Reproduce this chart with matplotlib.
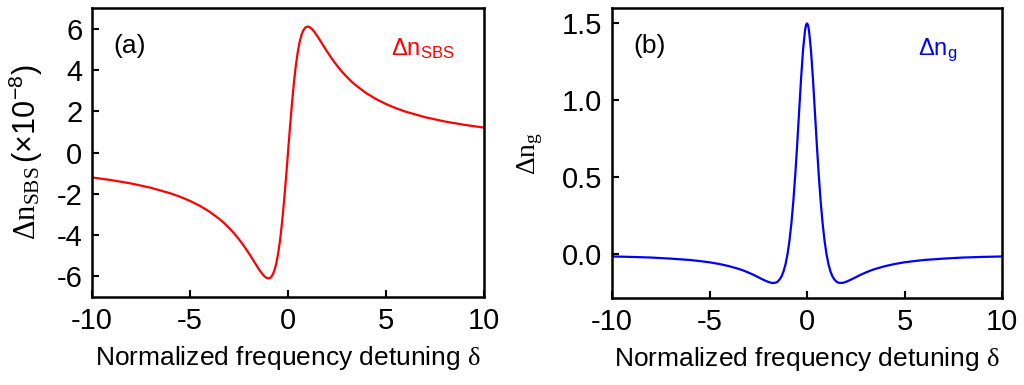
import matplotlib
matplotlib.use("Agg")
import matplotlib.pyplot as plt

plt.rcParams['font.family'] = ['Liberation Sans', 'DejaVu Sans']
plt.rcParams['mathtext.fontset'] = 'custom'
plt.rcParams['mathtext.rm'] = 'Liberation Serif'
plt.rcParams['mathtext.it'] = 'Liberation Serif'
plt.rcParams['mathtext.sf'] = 'Liberation Sans'

# normalized detuning values
delta = [-10, -9, -8, -7, -6, -5.5, -5, -4.5, -4, -3.5, -3.25, -3, -2.75, -2.5, -2.25,
         -2.0, -1.9, -1.8, -1.7, -1.6, -1.5, -1.4, -1.3, -1.2, -1.1,
         -1.0, -0.9, -0.8, -0.7, -0.6, -0.5, -0.4, -0.3, -0.2, -0.1, -0.05,
         0,
         0.05, 0.1, 0.2, 0.3, 0.4, 0.5, 0.6, 0.7, 0.8, 0.9, 1.0,
         1.1, 1.2, 1.3, 1.4, 1.5, 1.6, 1.7, 1.8, 1.9, 2.0,
         2.25, 2.5, 2.75, 3, 3.25, 3.5, 4, 4.5, 5, 5.5, 6, 7, 8, 9, 10]

# (a) delta n_SBS, units of 1e-8
dn_sbs = [-1.208, -1.339, -1.502, -1.708, -1.978, -2.147, -2.346, -2.584, -2.871, -3.223,
          -3.429, -3.660, -3.918, -4.207, -4.528,
          -4.880, -5.028, -5.179, -5.332, -5.483, -5.631, -5.770, -5.896, -6.000, -6.072,
          -6.100, -6.066, -5.951, -5.732, -5.382, -4.880, -4.207, -3.358, -2.346, -1.208, -0.609,
          0.0,
          0.609, 1.208, 2.346, 3.358, 4.207, 4.880, 5.382, 5.732, 5.951, 6.066, 6.100,
          6.072, 6.000, 5.896, 5.770, 5.631, 5.483, 5.332, 5.179, 5.028, 4.880,
          4.528, 4.207, 3.918, 3.660, 3.429, 3.223, 2.871, 2.584, 2.346, 2.147, 1.978,
          1.708, 1.502, 1.339, 1.208]

# (b) delta n_g
dn_g = [-0.015, -0.018, -0.022, -0.029, -0.038, -0.045, -0.053, -0.064, -0.078, -0.096,
        -0.107, -0.120, -0.134, -0.150, -0.166,
        -0.180, -0.184, -0.187, -0.187, -0.185, -0.178, -0.164, -0.143, -0.111, -0.065,
        0.0, 0.087, 0.201, 0.345, 0.519, 0.720, 0.936, 1.149, 1.331, 1.456, 1.489,
        1.500,
        1.489, 1.456, 1.331, 1.149, 0.936, 0.720, 0.519, 0.345, 0.201, 0.087, 0.0,
        -0.065, -0.111, -0.143, -0.164, -0.178, -0.185, -0.187, -0.187, -0.184, -0.180,
        -0.166, -0.150, -0.134, -0.120, -0.107, -0.096, -0.078, -0.064, -0.053, -0.045,
        -0.038, -0.029, -0.022, -0.018, -0.015]

xticks = [-10, -5, 0, 5, 10]
yticks_a = [-6, -4, -2, 0, 2, 4, 6]
yticks_b = [0.0, 0.5, 1.0, 1.5]

fig = plt.figure(figsize=(10.24, 3.85), dpi=100)
ax1 = fig.add_axes([92/1024, 88/385, 392/1024, 289/385])
ax2 = fig.add_axes([612/1024, 87/385, 390/1024, 290/385])


def style(ax):
    for s in ax.spines.values():
        s.set_linewidth(1.8)
    ax.tick_params(direction='in', length=5, width=1.5, labelsize=21, pad=7)
    ax.set_xlim(-10, 10)
    ax.set_xticks(xticks)
    ax.set_xticklabels([str(t) for t in xticks])
    ax.set_xlabel(r'Normalized frequency detuning $\delta$', fontsize=19, labelpad=7)


ax1.plot(delta, dn_sbs, color='#ff0000', lw=1.6)
style(ax1)
ax1.set_ylim(-7, 7)
ax1.set_yticks(yticks_a)
ax1.set_yticklabels([str(t) for t in yticks_a])
ax1.set_ylabel(r'$\Delta\mathrm{n}_{\mathrm{SBS}}\,\mathsf{(\times 10^{-8})}$', fontsize=22, labelpad=8)
ax1.text(0.054, 0.87, '(a)', transform=ax1.transAxes, fontsize=19, va='center')
ax1.text(0.763, 0.837, r'$\mathsf{\Delta n_{SBS}}$', transform=ax1.transAxes,
         fontsize=17, color='#ff0000', va='baseline')

ax2.plot(delta, dn_g, color='#0000ff', lw=1.6)
style(ax2)
ax2.set_ylim(-0.285, 1.6)
ax2.set_yticks(yticks_b)
ax2.set_yticklabels(['%.1f' % t for t in yticks_b])
ax2.set_ylabel(r'$\Delta\mathrm{n}_{\mathrm{g}}$', fontsize=20, labelpad=12)
ax2.text(0.054, 0.87, '(b)', transform=ax2.transAxes, fontsize=19, va='center')
ax2.text(0.785, 0.838, r'$\mathsf{\Delta n_{g}}$', transform=ax2.transAxes,
         fontsize=17, color='#0000ff', va='baseline')

fig.savefig('out.png', dpi=100)
